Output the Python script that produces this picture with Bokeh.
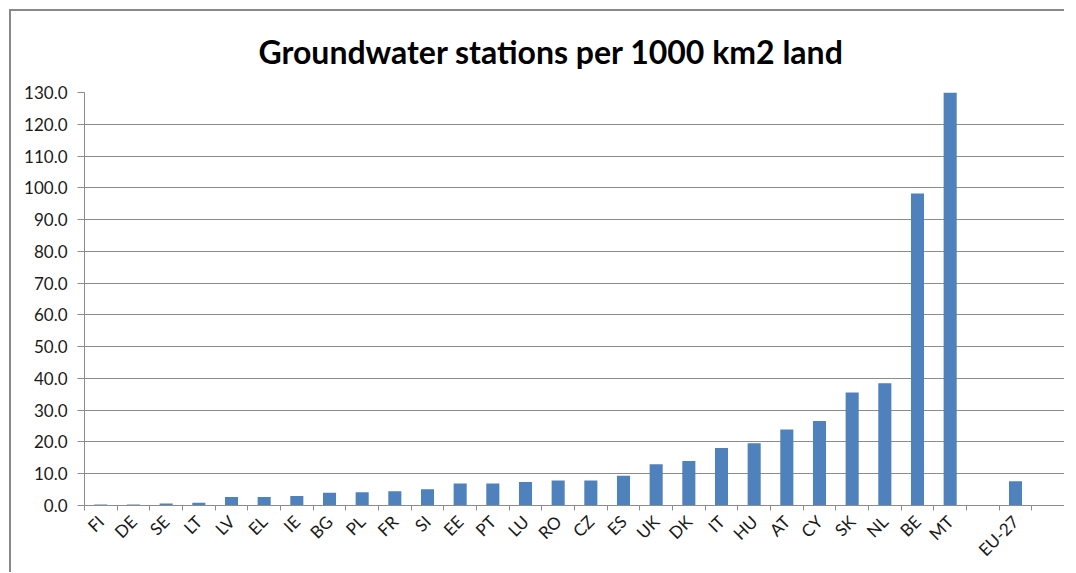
from bokeh.plotting import figure
from bokeh.models import FixedTicker, NumeralTickFormatter, Range1d, ColumnDataSource
from bokeh.embed import file_html
from bokeh.resources import INLINE
import math

# ---- data ----
countries = ["FI", "DE", "SE", "LT", "LV", "EL", "IE", "BG", "PL", "FR", "SI", "EE", "PT", "LU",
             "RO", "CZ", "ES", "UK", "DK", "IT", "HU", "AT", "CY", "SK", "NL", "BE", "MT"]
values = [0.3, 0.3, 0.6, 0.9, 2.7, 2.7, 3.0, 4.0, 4.2, 4.5, 5.1, 6.9, 6.9, 7.4,
          7.9, 7.9, 9.4, 13.0, 14.0, 18.1, 19.6, 23.9, 26.6, 35.6, 38.5, 98.2, 130.0]
eu_label = "EU-27"
eu_value = 7.6
y_ticks = list(range(0, 131, 10))

# category slots: countries, an empty slot, EU-27, an empty slot
slots = countries + [""] + [eu_label] + [""]
slot_values = values + [None] + [eu_value] + [None]

xs, tops = [], []
for i, v in enumerate(slot_values):
    if v is not None:
        xs.append(i + 0.5)
        tops.append(v)
src = ColumnDataSource(dict(x=xs, top=tops))

centers = [i + 0.5 for i in range(len(slots))]
boundaries = list(range(len(slots) + 1))

GREY = "#8C8C8C"
FONT = "Lato"

p = figure(width=1064, height=572, output_backend="svg", toolbar_location=None,
           x_range=Range1d(0, len(slots)), y_range=Range1d(0, 130),
           min_border_left=84, min_border_right=0, min_border_top=92, min_border_bottom=67)
p.outline_line_color = None
p.background_fill_color = "white"
p.border_fill_color = None

p.vbar(x="x", top="top", width=0.4, bottom=0, source=src,
       fill_color="#4F81BD", line_color=None)

# title
p.title.text = "Groundwater stations per 1000 km2 land"
p.title.text_font = FONT
p.title.text_font_style = "bold"
p.title.text_font_size = "32px"
p.title.text_color = "#000000"
p.title.align = "left"
p.title.offset = 174
p.title.standoff = 44

# x axis
xa = p.xaxis[0]
xa.ticker = FixedTicker(ticks=centers, minor_ticks=boundaries)
xa.major_label_overrides = {c: s for c, s in zip(centers, slots)}
xa.major_tick_out = 0
xa.major_tick_in = 0
xa.minor_tick_out = 5
xa.minor_tick_in = 0
xa.minor_tick_line_color = GREY
xa.axis_line_color = GREY
xa.major_label_orientation = math.pi / 4
xa.major_label_text_font = FONT
xa.major_label_text_font_size = "17px"
xa.major_label_text_color = "#1a1a1a"
xa.major_label_standoff = 8
p.xgrid.grid_line_color = None

# y axis
ya = p.yaxis[0]
ya.ticker = FixedTicker(ticks=y_ticks)
ya.formatter = NumeralTickFormatter(format="0.0")
ya.major_tick_out = 7
ya.major_tick_in = 0
ya.major_tick_line_color = GREY
ya.minor_tick_line_color = None
ya.axis_line_color = GREY
ya.major_label_text_font = FONT
ya.major_label_text_font_size = "17px"
ya.major_label_text_color = "#1a1a1a"
ya.major_label_standoff = 10
p.ygrid.ticker = FixedTicker(ticks=y_ticks)
p.ygrid.grid_line_color = GREY
p.ygrid.grid_line_width = 1

# chart-area border (only its left and top edges are visible in the reference)
p.styles = {
    "background-color": "white",
    "background-image": "linear-gradient(#898989, #898989), linear-gradient(#898989, #898989)",
    "background-position": "9px 9px, 9px 9px",
    "background-size": "2px 100%, 100% 2px",
    "background-repeat": "no-repeat, no-repeat",
}

open("out.html", "w").write(file_html(p, INLINE))
